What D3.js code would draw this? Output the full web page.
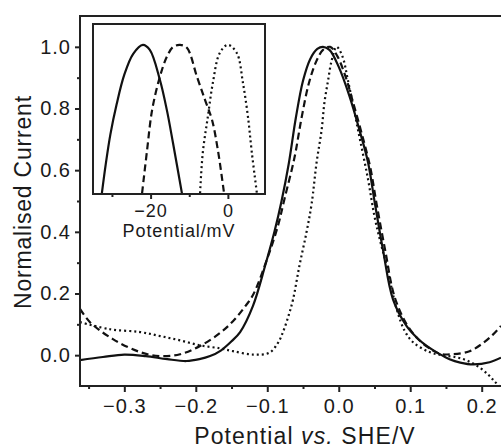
<!DOCTYPE html>
<html>
<head>
    <meta charset="utf-8">
    <title>Normalised Current vs Potential</title>
    <script src="https://cdnjs.cloudflare.com/ajax/libs/d3/7.8.5/d3.min.js"></script>
    <style>
        body { margin: 0; background: white; }
        text { font-family: "Liberation Sans", Arial, sans-serif; fill: #1a1a1a; }
    </style>
</head>
<body>
    <div id="chart"></div>
    <script>
        // main curves: [potential V, normalised current]
        const solidData = [
            [-0.362, -0.016], [-0.33, -0.006], [-0.30, 0.002], [-0.27, -0.003], [-0.24, -0.013],
            [-0.213, -0.019], [-0.195, -0.013], [-0.18, -0.003], [-0.165, 0.015], [-0.15, 0.045],
            [-0.138, 0.075], [-0.12, 0.16], [-0.103, 0.29], [-0.09, 0.40], [-0.08, 0.50],
            [-0.07, 0.62], [-0.06, 0.77], [-0.05, 0.89], [-0.04, 0.96], [-0.03, 0.993],
            [-0.022, 1.0], [-0.013, 0.99], [0.0, 0.935], [0.015, 0.84], [0.029, 0.73],
            [0.041, 0.625], [0.05, 0.50], [0.062, 0.34], [0.076, 0.18], [0.095, 0.094],
            [0.11, 0.055], [0.123, 0.03], [0.14, 0.005], [0.155, -0.013], [0.17, -0.024],
            [0.188, -0.03], [0.211, -0.023], [0.227, -0.008]
        ];
        const dashedData = [
            [-0.362, 0.15], [-0.348, 0.107], [-0.316, 0.052], [-0.278, 0.01], [-0.25, -0.003],
            [-0.222, 0.003], [-0.194, 0.03], [-0.166, 0.072], [-0.148, 0.11], [-0.132, 0.155],
            [-0.12, 0.195], [-0.099, 0.32], [-0.085, 0.42], [-0.076, 0.506], [-0.062, 0.64],
            [-0.052, 0.77], [-0.042, 0.88], [-0.032, 0.95], [-0.022, 0.99], [-0.012, 1.0],
            [-0.002, 0.97], [0.01, 0.9], [0.02, 0.82], [0.032, 0.72], [0.044, 0.61],
            [0.053, 0.49], [0.065, 0.34], [0.078, 0.19], [0.095, 0.1], [0.11, 0.055],
            [0.125, 0.025], [0.141, 0.005], [0.16, 0.003], [0.183, 0.013], [0.2, 0.036],
            [0.215, 0.065], [0.227, 0.095]
        ];
        const dottedData = [
            [-0.362, 0.107], [-0.32, 0.084], [-0.278, 0.075], [-0.25, 0.062], [-0.222, 0.048],
            [-0.194, 0.032], [-0.166, 0.022], [-0.148, 0.013], [-0.12, 0.002], [-0.097, 0.008],
            [-0.085, 0.04], [-0.078, 0.075], [-0.07, 0.13], [-0.064, 0.18], [-0.055, 0.29],
            [-0.045, 0.40], [-0.038, 0.49], [-0.031, 0.625], [-0.024, 0.73], [-0.02, 0.82],
            [-0.015, 0.89], [-0.01, 0.955], [-0.003, 1.0], [0.005, 0.97], [0.013, 0.89],
            [0.027, 0.73], [0.041, 0.57], [0.05, 0.45], [0.058, 0.37], [0.067, 0.29],
            [0.081, 0.15], [0.092, 0.08], [0.104, 0.042], [0.127, 0.01], [0.145, 0.0],
            [0.165, -0.007], [0.18, -0.018], [0.197, -0.04], [0.21, -0.065], [0.218, -0.085],
            [0.227, -0.105]
        ];

        // inset curves: [potential mV, normalised current]
        const insetSolid = [
            [-32.6, 0.503], [-31.6, 0.60], [-30.4, 0.70], [-28.8, 0.80], [-26.8, 0.90],
            [-24.5, 0.97], [-22.0, 1.0], [-20.2, 0.983], [-17.6, 0.883], [-15.8, 0.782],
            [-14.2, 0.671], [-11.9, 0.503]
        ];
        const insetDashed = [
            [-22.2, 0.503], [-20.9, 0.648], [-19.6, 0.782], [-17.6, 0.893], [-15.8, 0.96],
            [-14.2, 0.993], [-12.4, 1.0], [-10.6, 0.99], [-8.0, 0.893], [-5.9, 0.815],
            [-4.1, 0.748], [-2.6, 0.648], [-1.0, 0.503]
        ];
        const insetDotted = [
            [-7.2, 0.503], [-6.5, 0.638], [-5.2, 0.758], [-3.9, 0.872], [-2.1, 0.973],
            [0, 1.0], [2.3, 0.973], [3.9, 0.872], [5.2, 0.758], [6.2, 0.638], [7.5, 0.503]
        ];

        const xTicks = [-0.3, -0.2, -0.1, 0.0, 0.1, 0.2];
        const xMinorTicks = [-0.35, -0.25, -0.15, -0.05, 0.05, 0.15];
        const yTicks = [0.0, 0.2, 0.4, 0.6, 0.8, 1.0];
        const yMinorTicks = [0.1, 0.3, 0.5, 0.7, 0.9];
        const insetTicks = [-20, 0];
        const insetMinorTicks = [-30, -10];

        const W = 501, H = 448;
        const svg = d3.select('#chart').append('svg')
            .attr('width', W).attr('height', H);

        const x = d3.scaleLinear().domain([-0.362, 0.227]).range([80, 501]);
        const y = d3.scaleLinear().domain([-0.1, 1.1]).range([386, 16]);

        const fmt = d3.format('.1f');

        svg.append('clipPath').attr('id', 'mainClip')
            .append('rect').attr('x', 80).attr('y', 16).attr('width', 440).attr('height', 370);

        const line = d3.line()
            .x(d => x(d[0])).y(d => y(d[1]))
            .curve(d3.curveCatmullRom.alpha(0.5));

        const plot = svg.append('g').attr('clip-path', 'url(#mainClip)');
        plot.append('path').datum(solidData)
            .attr('d', line).attr('fill', 'none').attr('stroke', '#111').attr('stroke-width', 2.2);
        plot.append('path').datum(dashedData)
            .attr('d', line).attr('fill', 'none').attr('stroke', '#111').attr('stroke-width', 2.2)
            .attr('stroke-dasharray', '7,4');
        plot.append('path').datum(dottedData)
            .attr('d', line).attr('fill', 'none').attr('stroke', '#111').attr('stroke-width', 2.2)
            .attr('stroke-dasharray', '2,3');

        // axes
        svg.append('g').attr('transform', `translate(0,386)`)
            .call(d3.axisBottom(x).tickValues(xTicks).tickSize(6).tickSizeOuter(0).tickPadding(7)
                .tickFormat(fmt));
        svg.append('g').attr('transform', `translate(0,386)`)
            .call(d3.axisBottom(x).tickValues(xMinorTicks).tickSize(3).tickSizeOuter(0).tickFormat(''));
        svg.append('g').attr('transform', `translate(80,0)`)
            .call(d3.axisLeft(y).tickValues(yTicks).tickSize(5).tickSizeOuter(0).tickPadding(4)
                .tickFormat(fmt));
        svg.append('g').attr('transform', `translate(80,0)`)
            .call(d3.axisLeft(y).tickValues(yMinorTicks).tickSize(3).tickSizeOuter(0).tickFormat(''));

        svg.selectAll('.domain').remove();
        svg.selectAll('.tick text')
            .style('font-size', '20px').style('letter-spacing', '1px')
            .style('font-family', '"Liberation Sans", Arial, sans-serif')
            .attr('fill', '#1a1a1a');

        // frame (right side falls outside the picture)
        svg.append('rect').attr('x', 80).attr('y', 16).attr('width', 460).attr('height', 370)
            .attr('fill', 'none').attr('stroke', '#222').attr('stroke-width', 2);

        svg.append('text')
            .attr('x', 305).attr('y', 444).attr('text-anchor', 'middle')
            .style('font-size', '23px').style('letter-spacing', '1.1px')
            .html('Potential <tspan font-style="italic">vs.</tspan> SHE/V');

        svg.append('text')
            .attr('transform', 'translate(31,202) rotate(-90)').attr('text-anchor', 'middle')
            .style('font-size', '23px').style('letter-spacing', '0.8px')
            .text('Normalised Current');

        // inset
        const xi = d3.scaleLinear().domain([-34.9, 9.6]).range([93, 265]);
        const yi = d3.scaleLinear().domain([0.5, 1.07]).range([194, 24]);

        svg.append('rect').attr('x', 93).attr('y', 24).attr('width', 172).attr('height', 170)
            .attr('fill', 'white');

        svg.append('clipPath').attr('id', 'insetClip')
            .append('rect').attr('x', 93).attr('y', 24).attr('width', 172).attr('height', 170);

        const iline = d3.line()
            .x(d => xi(d[0])).y(d => yi(d[1]))
            .curve(d3.curveCatmullRom.alpha(0.5));

        const inset = svg.append('g').attr('clip-path', 'url(#insetClip)');
        inset.append('path').datum(insetSolid)
            .attr('d', iline).attr('fill', 'none').attr('stroke', '#111').attr('stroke-width', 2.2);
        inset.append('path').datum(insetDashed)
            .attr('d', iline).attr('fill', 'none').attr('stroke', '#111').attr('stroke-width', 2.2)
            .attr('stroke-dasharray', '7,4');
        inset.append('path').datum(insetDotted)
            .attr('d', iline).attr('fill', 'none').attr('stroke', '#111').attr('stroke-width', 2.2)
            .attr('stroke-dasharray', '2,3');

        const insetAxis = svg.append('g').attr('transform', 'translate(0,194)')
            .call(d3.axisBottom(xi).tickValues(insetTicks).tickSize(5).tickSizeOuter(0).tickPadding(5)
                .tickFormat(d3.format('d')));
        svg.append('g').attr('transform', 'translate(0,194)')
            .call(d3.axisBottom(xi).tickValues(insetMinorTicks).tickSize(3).tickSizeOuter(0).tickFormat(''));
        svg.selectAll('.domain').remove();
        insetAxis.selectAll('.tick text')
            .style('font-size', '18px').style('letter-spacing', '1px')
            .style('font-family', '"Liberation Sans", Arial, sans-serif')
            .attr('fill', '#1a1a1a');
        svg.selectAll('.tick line').attr('stroke', '#222').attr('stroke-width', 2);

        svg.append('rect').attr('x', 93).attr('y', 24).attr('width', 172).attr('height', 170)
            .attr('fill', 'none').attr('stroke', '#222').attr('stroke-width', 2);

        svg.append('text')
            .attr('x', 179).attr('y', 237).attr('text-anchor', 'middle')
            .style('font-size', '18px').style('letter-spacing', '0.9px')
            .text('Potential/mV');
    </script>
</body>
</html>
